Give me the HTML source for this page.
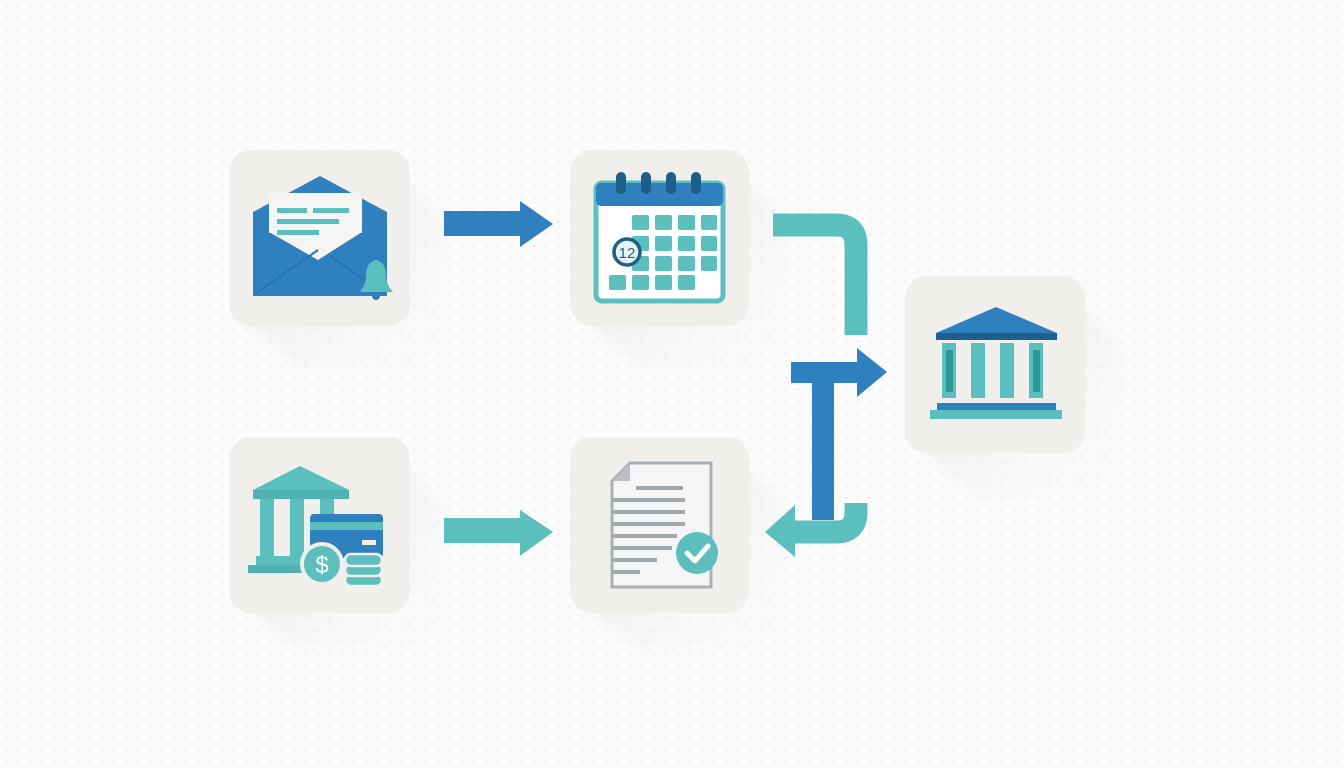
<!DOCTYPE html>
<html><head><meta charset="utf-8"><style>
html,body{margin:0;padding:0}
body{width:1344px;height:768px;overflow:hidden;background:#fbfbfb;
background-image:radial-gradient(circle,#e2e2e2 0.7px,transparent 1.1px);background-size:12px 12px;}
</style></head><body>
<svg width="1344" height="768" viewBox="0 0 1344 768" xmlns="http://www.w3.org/2000/svg" style="position:absolute;left:0;top:0">
<defs>
<linearGradient id="sh" x1="0" y1="0" x2="1" y2="1"><stop offset="0" stop-color="#d6d6d6" stop-opacity="0.7"/><stop offset="1" stop-color="#f6f6f6" stop-opacity="0"/></linearGradient>
<filter id="bl" x="-20%" y="-20%" width="140%" height="140%"><feGaussianBlur stdDeviation="5"/></filter>
</defs>
<g fill="url(#sh)" filter="url(#bl)">
<path d="M395 170 L445 220 L445 370 L300 370 L245 320 Z"/>
<path d="M735 170 L785 220 L785 370 L640 370 L586 320 Z"/>
<path d="M1070 296 L1120 346 L1120 495 L975 495 L921 447 Z"/>
<path d="M395 457 L445 507 L445 650 L300 650 L245 607 Z"/>
<path d="M735 457 L785 507 L785 650 L640 650 L586 607 Z"/>
</g>
<g fill="#f0efeb">
<rect x="229" y="150" width="181" height="176" rx="22"/>
<rect x="570" y="150" width="179" height="176" rx="22"/>
<rect x="905" y="276" width="180" height="177" rx="22"/>
<rect x="229" y="437" width="181" height="176" rx="22"/>
<rect x="570" y="437" width="179" height="176" rx="22"/>
</g>
<path fill="#2e80bf" d="M444 211 H520 V201 L553 224 L520 247 V236 H444 Z"/>
<path fill="#5bbfbd" d="M444 518 H520 V510 L553 532 L520 556 V543 H444 Z"/>
<path fill="none" stroke="#5bbfbd" stroke-width="23" d="M773 225 H836 Q856 225 856 245 V335"/>
<rect x="812" y="372" width="22" height="148" fill="#2e80bf"/>
<path fill="#2e80bf" d="M791 362 H857 V348 L887 372 L857 397 V383 H791 Z"/>
<path fill="none" stroke="#5bbfbd" stroke-width="23" d="M856 503 V512 Q856 532 836 532 H792"/>
<path fill="#5bbfbd" d="M795 505 L765 532 L795 557 Z"/>
<!-- envelope -->
<path fill="#2e80bf" d="M253 212 L320 176 L387 212 V296 H253 Z"/>
<rect x="269" y="193" width="93" height="40" fill="#f5f5f3"/>
<path fill="#f5f5f3" d="M269 225 H362 V232 L318 260 L269 232Z"/>
<g fill="#5bbfbd"><rect x="277" y="208" width="30" height="5"/><rect x="313" y="208" width="36" height="5"/><rect x="277" y="219" width="62" height="5"/><rect x="277" y="230" width="42" height="5"/></g>
<path fill="none" stroke="#2672ab" stroke-width="2" d="M255 294 L318 250 M385 294 L330 256"/>
<path fill="#5bbfbd" d="M360 292 Q366 284 366 276 Q366 262 376 260 Q386 262 386 276 Q386 284 393 292Z"/>
<circle cx="376" cy="296" r="4" fill="#2e80bf"/>
<!-- calendar -->
<rect x="596" y="183" width="127" height="118" rx="6" fill="#fff" stroke="#5bbfbd" stroke-width="5"/>
<rect x="596" y="183" width="127" height="23" rx="5" fill="#2e80bf"/>
<g fill="#1d5f8a"><rect x="616" y="172" width="10" height="22" rx="5"/><rect x="641" y="172" width="10" height="22" rx="5"/><rect x="666" y="172" width="10" height="22" rx="5"/><rect x="691" y="172" width="10" height="22" rx="5"/></g>
<g fill="#5bbfbd">
<rect x="632" y="215" width="17" height="15" rx="2"/><rect x="655" y="215" width="17" height="15" rx="2"/><rect x="678" y="215" width="17" height="15" rx="2"/><rect x="701" y="215" width="16" height="15" rx="2"/>
<rect x="632" y="236" width="17" height="15" rx="2"/><rect x="655" y="236" width="17" height="15" rx="2"/><rect x="678" y="236" width="17" height="15" rx="2"/><rect x="701" y="236" width="16" height="15" rx="2"/>
<rect x="632" y="256" width="17" height="15" rx="2"/><rect x="655" y="256" width="17" height="15" rx="2"/><rect x="678" y="256" width="17" height="15" rx="2"/><rect x="701" y="256" width="16" height="15" rx="2"/>
<rect x="609" y="275" width="17" height="15" rx="2"/><rect x="632" y="275" width="17" height="15" rx="2"/><rect x="655" y="275" width="17" height="15" rx="2"/><rect x="678" y="275" width="17" height="15" rx="2"/>
</g>
<circle cx="627" cy="252" r="13" fill="#e8f3f3" stroke="#1d5f8a" stroke-width="3.5"/>
<text x="627" y="258" font-family="Liberation Sans,sans-serif" font-size="15" text-anchor="middle" fill="#1d5f8a">12</text>
<!-- big bank -->
<path fill="#2e80bf" d="M936 333 L996 307 L1057 333 Z"/>
<rect x="936" y="333" width="121" height="7" fill="#1d5f8a"/>
<g fill="#5bbfbd"><rect x="942" y="343" width="14" height="55"/><rect x="971" y="343" width="14" height="55"/><rect x="1000" y="343" width="14" height="55"/><rect x="1029" y="343" width="14" height="55"/></g>
<g fill="#2a9a98"><rect x="946" y="350" width="7" height="42"/><rect x="1033" y="350" width="7" height="42"/></g>
<rect x="937" y="403" width="119" height="7" fill="#2e80bf"/>
<rect x="930" y="410" width="132" height="9" fill="#5bbfbd"/>
<!-- small bank + card -->
<path fill="#5bbfbd" d="M253 490 L300 466 L349 490 Z"/>
<rect x="253" y="490" width="96" height="9" fill="#4fb2b0"/>
<g fill="#5bbfbd"><rect x="260" y="499" width="14" height="62"/><rect x="290" y="499" width="14" height="62"/><rect x="320" y="499" width="14" height="20"/></g>
<rect x="256" y="556" width="48" height="9" fill="#5bbfbd"/>
<rect x="248" y="565" width="60" height="8" fill="#4fb2b0"/>
<rect x="310" y="514" width="73" height="44" rx="4" fill="#2e80bf"/>
<rect x="310" y="522" width="73" height="8" fill="#5bbfbd"/>
<rect x="362" y="540" width="14" height="5" fill="#f0efeb"/>
<circle cx="322" cy="564" r="20" fill="#5bbfbd" stroke="#f0efeb" stroke-width="4"/>
<text x="322" y="573" font-family="Liberation Sans,sans-serif" font-size="24" text-anchor="middle" fill="#fff">$</text>
<g fill="#5bbfbd" stroke="#f0efeb" stroke-width="2.5"><rect x="345" y="574" width="37" height="12" rx="6"/><rect x="345" y="564" width="37" height="12" rx="6"/><rect x="345" y="554" width="37" height="12" rx="6"/></g>
<!-- document -->
<path fill="#f5f5f5" stroke="#a8b0b6" stroke-width="3" d="M630 463 H711 V587 H612 V481 Z"/>
<path fill="#b8bec3" d="M612 481 L630 463 V481 Z"/>
<g fill="#a0a8ae"><rect x="636" y="486" width="47" height="4"/><rect x="612" y="498" width="73" height="4"/><rect x="612" y="510" width="73" height="4"/><rect x="612" y="522" width="73" height="4"/><rect x="612" y="534" width="65" height="4"/><rect x="612" y="546" width="60" height="4"/><rect x="612" y="558" width="45" height="4"/><rect x="612" y="570" width="28" height="4"/></g>
<circle cx="697" cy="553" r="21" fill="#5bbfbd"/>
<path d="M687 553 L695 561 L708 546" fill="none" stroke="#fff" stroke-width="5" stroke-linecap="round" stroke-linejoin="round"/>
</svg>
</body></html>
